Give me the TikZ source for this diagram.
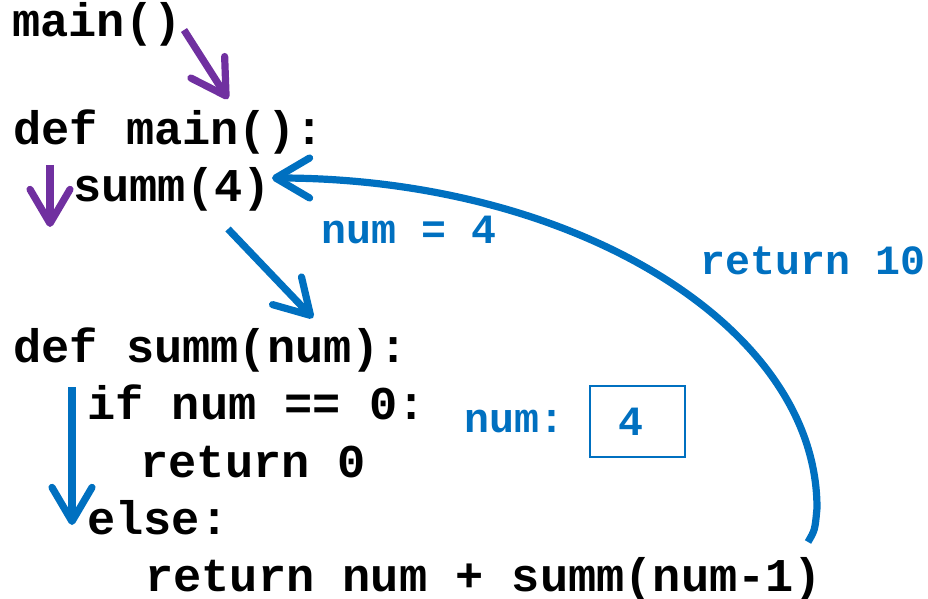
\documentclass[tikz,border=0pt]{standalone}
\usepackage{fontspec}
\setmonofont{Liberation Mono}
\usepackage{tikz}
\usetikzlibrary{arrows.meta}
\definecolor{callpurple}{HTML}{7030A0}
\definecolor{traceblue}{HTML}{0070C0}
\tikzset{
  code/.style={anchor=base west,inner sep=0pt,font=\fontsize{23.5}{28}\ttfamily\bfseries},
  note/.style={anchor=base west,inner sep=0pt,text=traceblue,font=\fontsize{20.8}{25}\ttfamily\bfseries},
  flow/.style={line width=3.6pt,-{Straight Barb[round,length=17pt,width=20pt]}},
}

\begin{document}
\begin{tikzpicture}[x=0.5pt, y=-0.5pt]
  \useasboundingbox (0,0) rectangle (928,599);

  % program text
  \node[code] (call)  at (12,37)  {main()};
  \node[code] (defm)  at (13,145) {def main():};
  \node[code] (summ)  at (73,202) {summ(4)};
  \node[code] (defs)  at (13,363) {def summ(num):};
  \node[code] (iff)   at (87,420) {if num == 0:};
  \node[code] (ret0)  at (140,477) {return 0};
  \node[code] (els)   at (87,534) {else:};
  \node[code] (retn)  at (145,591) {return num + summ(num-1)};

  % notes
  \node[note] (arg)   at (321,243) {num = 4};
  \node[note] (back)  at (700,275) {return 10};
  \node[note] (var)   at (464,432) {num:};
  \node[draw=traceblue,line width=1pt,minimum width=47.5pt,minimum height=35.5pt,
        inner sep=0pt,text=traceblue,font=\fontsize{20.8}{25}\ttfamily\bfseries]
        (cell) at (637.5,421.5) {\hspace*{-7pt}4};

  % control flow
  \coordinate (a1) at (184,30);   \coordinate (a2) at (228,99);
  \coordinate (b1) at (50,165);   \coordinate (b2) at (50,227);
  \coordinate (c1) at (228,229);  \coordinate (c2) at (313,318);
  \coordinate (d1) at (72,387);   \coordinate (d2) at (72,525);
  \coordinate (e1) at (808,542);  \coordinate (e2) at (272,178);
  \draw[flow,callpurple] (a1) -- (a2);
  \draw[flow,callpurple] (b1) -- (b2);
  \draw[flow,traceblue] (c1) -- (c2);
  \draw[flow,traceblue] (d1) -- (d2);
  \draw[flow,traceblue] (e1) .. controls (815,530) .. (817,508)
    .. controls (817,326) and (573,178) .. (e2);
\end{tikzpicture}
\end{document}
